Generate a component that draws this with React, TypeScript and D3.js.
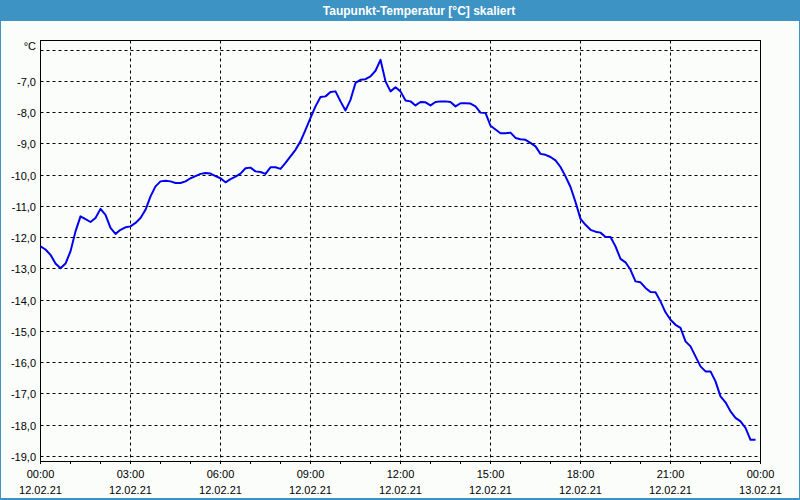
import React from "react";
import * as d3 from "d3";

const TITLE = "Taupunkt-Temperatur [°C] skaliert";
const UNIT = "°C";
const START_MINUTE = 0;
const STEP_MINUTES = 10;
const dewPoint = [
  -12.3, -12.4, -12.57, -12.85, -13.0, -12.85, -12.46, -11.82, -11.34, -11.43,
  -11.52, -11.39, -11.1, -11.29, -11.71, -11.9, -11.77, -11.69, -11.66, -11.55,
  -11.39, -11.13, -10.7, -10.38, -10.22, -10.2, -10.22, -10.27, -10.27, -10.22,
  -10.12, -10.05, -9.98, -9.95, -9.97, -10.05, -10.12, -10.25, -10.15, -10.07,
  -9.97, -9.8, -9.78, -9.9, -9.92, -9.98, -9.77, -9.77, -9.82, -9.63,
  -9.42, -9.21, -8.94, -8.57, -8.19, -7.82, -7.52, -7.5, -7.36, -7.34,
  -7.66, -7.95, -7.61, -7.07, -6.97, -6.95, -6.86, -6.68, -6.33, -7.02,
  -7.34, -7.21, -7.34, -7.63, -7.66, -7.79, -7.68, -7.69, -7.79, -7.68,
  -7.66, -7.66, -7.68, -7.82, -7.72, -7.72, -7.73, -7.82, -8.02, -8.03,
  -8.44, -8.56, -8.68, -8.68, -8.66, -8.83, -8.87, -8.89, -8.99, -9.1,
  -9.34, -9.37, -9.44, -9.55, -9.76, -10.06, -10.4, -10.88, -11.42, -11.61,
  -11.77, -11.83, -11.86, -12.0, -12.0, -12.3, -12.7, -12.81, -13.05, -13.42,
  -13.45, -13.63, -13.76, -13.77, -14.06, -14.41, -14.65, -14.81, -14.91, -15.34,
  -15.5, -15.82, -16.14, -16.3, -16.3, -16.62, -17.1, -17.29, -17.58, -17.79,
  -17.9, -18.11, -18.49, -18.49,
];
const yTicks = [-7, -8, -9, -10, -11, -12, -13, -14, -15, -16, -17, -18, -19];
const yGrid = [-6, -7, -8, -9, -10, -11, -12, -13, -14, -15, -16, -17, -18, -19];
const xTickHours = [0, 3, 6, 9, 12, 15, 18, 21, 24];
const xTimeLabels = ["00:00", "03:00", "06:00", "09:00", "12:00", "15:00", "18:00", "21:00", "00:00"];
const xDateLabels = ["12.02.21", "12.02.21", "12.02.21", "12.02.21", "12.02.21", "12.02.21", "12.02.21", "12.02.21", "13.02.21"];
const minorHours = d3.range(0, 25);

const W = 800;
const H = 500;
const L = 40.5, R = 760.5, T = 40.5, B = 461.5;

export default function App() {
  const x = d3.scaleLinear().domain([0, 24]).range([L, R]);
  const y = d3.scaleLinear().domain([-6, -19]).range([49.5, 455.75]);
  const pts = dewPoint.map((v, i) => [(START_MINUTE + i * STEP_MINUTES) / 60, v] as [number, number]);
  const line = d3.line<[number, number]>().x((d) => x(d[0])).y((d) => y(d[1]));
  const font = "'Liberation Sans', Arial, sans-serif";
  const fmt = (v: number) => d3.format(".1f")(v).replace(".", ",").replace("−", "-");
  return (
    <svg width={W} height={H} style={{ position: "absolute", left: 0, top: 0 }} fontFamily={font}>
      <rect x={0} y={0} width={W} height={H} fill="#3d93c4" />
      <rect x={1} y={21} width={W - 2} height={H - 23} fill="#fbfdfb" />
      <text x={419} y={14.5} textAnchor="middle" fill="#ffffff" fontWeight="bold" fontSize={12}>{TITLE}</text>
      {yGrid.map((v) => (
        <line key={"gy" + v} x1={L} x2={R} y1={Math.round(y(v)) + 0.5} y2={Math.round(y(v)) + 0.5} stroke="#000" strokeDasharray="3,3" strokeWidth={1} />
      ))}
      {xTickHours.slice(1, -1).map((h) => (
        <line key={"gx" + h} x1={x(h)} x2={x(h)} y1={T} y2={B} stroke="#000" strokeDasharray="3,3" strokeWidth={1} />
      ))}
      <rect x={L} y={T} width={R - L} height={B - T} fill="none" stroke="#000" strokeWidth={1} />
      {minorHours.map((h) => (
        <line key={"mt" + h} x1={x(h)} x2={x(h)} y1={B} y2={B + 2.5} stroke="#000" strokeWidth={1} />
      ))}
      {yTicks.map((v) => (
        <text key={"yl" + v} x={36} y={Math.round(y(v)) + 4.5} textAnchor="end" fontSize={11} fill="#000">{fmt(v)}</text>
      ))}
      <text x={36} y={50} textAnchor="end" fontSize={11} fill="#000">{UNIT}</text>
      {xTickHours.map((h, i) => (
        <g key={"xl" + h}>
          <text x={x(h)} y={478} textAnchor="middle" fontSize={11} fill="#000">{xTimeLabels[i]}</text>
          <text x={x(h)} y={494} textAnchor="middle" fontSize={11} fill="#000">{xDateLabels[i]}</text>
        </g>
      ))}
      <path d={line(pts) || ""} fill="none" stroke="#0000ee" strokeWidth={2} strokeLinejoin="round" />
    </svg>
  );
}
